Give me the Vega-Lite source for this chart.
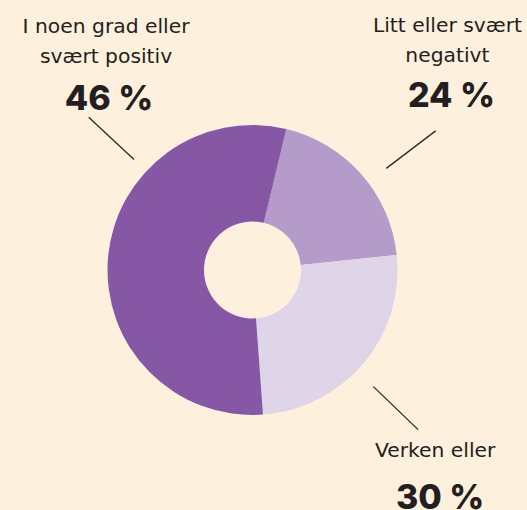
{
  "$schema": "https://vega.github.io/schema/vega-lite/v6.json",
  "autosize": {"type": "none"},
  "width": 505,
  "height": 480,
  "padding": {"left": 0, "top": 30, "right": 22, "bottom": 0},
  "background": "#FDF0DC",
  "config": {"view": {"stroke": null}, "text": {"font": "DejaVu Sans", "color": "#231F20"}},
  "data": {
    "values": [
      {"kategori": "Litt eller svært negativt", "etikett": ["Litt eller svært", "negativt"], "prosent": "24 %", "andel": 19.6, "rekkefolge": 1},
      {"kategori": "Verken eller", "etikett": ["Verken eller"], "prosent": "30 %", "andel": 25.5, "rekkefolge": 2},
      {"kategori": "I noen grad eller svært positiv", "etikett": ["I noen grad eller", "svært positiv"], "prosent": "46 %", "andel": 54.9, "rekkefolge": 3}
    ]
  },
  "encoding": {
    "theta": {"field": "andel", "type": "quantitative", "stack": true, "scale": {"type": "linear", "domain": [0, 100], "range": [0.2356, 6.5188], "zero": true}},
    "order": {"field": "rekkefolge", "type": "quantitative"}
  },
  "layer": [
    {
      "mark": {"type": "arc", "outerRadius": 145, "innerRadius": 48.5},
      "encoding": {
        "color": {"field": "kategori", "type": "nominal", "legend": null,
          "scale": {"domain": ["Litt eller svært negativt", "Verken eller", "I noen grad eller svært positiv"], "range": ["#B59BC9", "#DED5E9", "#8557A5"]}}
      }
    },
    {
      "mark": {"type": "arc", "outerRadius": 230, "innerRadius": 168, "padAngle": 3.1416, "stroke": "#2B2B2B", "strokeWidth": 1.3, "fillOpacity": 0, "thetaOffset": 0.0698, "theta2Offset": 0.0698},
      "encoding": {"strokeOpacity": {"condition": {"test": "datum.rekkefolge < 3", "value": 1}, "value": 0}}
    },
    {
      "transform": [{"stack": "andel", "groupby": [], "sort": [{"field": "rekkefolge", "order": "ascending"}], "as": ["s0", "s1"]}],
      "mark": {"type": "arc", "outerRadius": 224, "innerRadius": 162, "stroke": "#2B2B2B", "strokeWidth": 1.3, "fillOpacity": 0, "thetaOffset": -1.0559, "theta2Offset": -1.0559},
      "encoding": {
        "theta": {"field": "s1", "type": "quantitative", "scale": {"type": "linear", "domain": [0, 100], "range": [0.2356, 6.5188], "zero": true}},
        "theta2": {"field": "s1"},
        "strokeOpacity": {"condition": {"test": "datum.rekkefolge == 3", "value": 1}, "value": 0}
      }
    },
    {
      "mark": {"type": "text", "radius": 250, "dx": 102.7, "dy": -216.5, "fontSize": 20.3, "lineHeight": 29.5, "align": "center", "baseline": "alphabetic"},
      "encoding": {"text": {"condition": {"test": "datum.rekkefolge == 3", "field": "etikett"}, "value": ""}}
    },
    {
      "mark": {"type": "text", "radius": 250, "dx": 105.7, "dy": -139.5, "font": "Inter", "fontSize": 34, "fontWeight": 800, "align": "center", "baseline": "alphabetic"},
      "encoding": {"text": {"condition": {"test": "datum.rekkefolge == 3", "field": "prosent"}, "value": ""}}
    },
    {
      "mark": {"type": "text", "radius": 250, "dx": 6.9, "dy": -73.3, "fontSize": 20.3, "lineHeight": 30.5, "align": "center", "baseline": "alphabetic"},
      "encoding": {"text": {"condition": {"test": "datum.rekkefolge == 1", "field": "etikett"}, "value": ""}}
    },
    {
      "mark": {"type": "text", "radius": 250, "dx": 10.9, "dy": 1.7, "font": "Inter", "fontSize": 34, "fontWeight": 800, "align": "center", "baseline": "alphabetic"},
      "encoding": {"text": {"condition": {"test": "datum.rekkefolge == 1", "field": "prosent"}, "value": ""}}
    },
    {
      "mark": {"type": "text", "radius": 250, "dx": -9, "dy": 26.3, "fontSize": 20.3, "lineHeight": 30, "align": "center", "baseline": "alphabetic"},
      "encoding": {"text": {"condition": {"test": "datum.rekkefolge == 2", "field": "etikett"}, "value": ""}}
    },
    {
      "mark": {"type": "text", "radius": 250, "dx": -4, "dy": 78.8, "font": "Inter", "fontSize": 34, "fontWeight": 800, "align": "center", "baseline": "alphabetic"},
      "encoding": {"text": {"condition": {"test": "datum.rekkefolge == 2", "field": "prosent"}, "value": ""}}
    }
  ]
}
